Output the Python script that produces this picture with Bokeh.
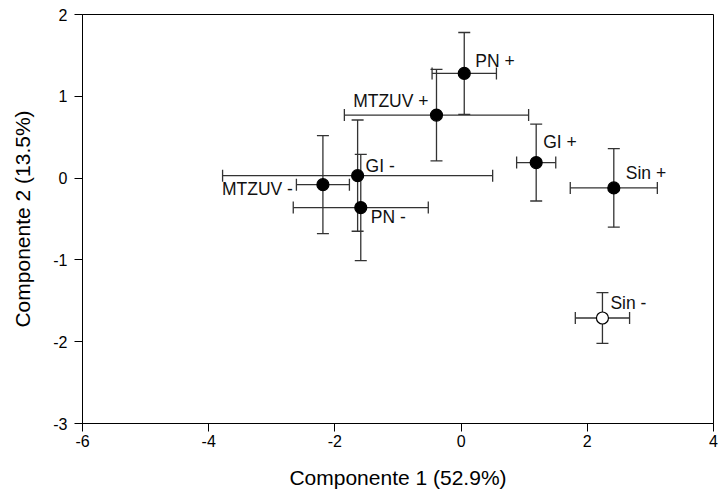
from bokeh.plotting import figure
from bokeh.models import ColumnDataSource, Whisker, FixedTicker, Range1d, TeeHead, CustomJSTickFormatter
from bokeh.core.properties import value
from bokeh.embed import file_html
from bokeh.resources import INLINE

labels = ["PN +", "MTZUV +", "GI -", "PN -", "MTZUV -", "GI +", "Sin +", "Sin -"]
comp1 = [0.05, -0.39, -1.64, -1.59, -2.19, 1.19, 2.42, 2.24]
comp2 = [1.28, 0.77, 0.03, -0.36, -0.08, 0.19, -0.12, -1.71]
err1 = [0.51, 1.46, 2.14, 1.07, 0.42, 0.31, 0.69, 0.43]
err2 = [0.50, 0.56, 0.68, 0.65, 0.60, 0.47, 0.48, 0.31]
filled = [True, True, True, True, True, True, True, False]
x_ticks = [-6, -4, -2, 0, 2, 4]
y_ticks = [-3, -2, -1, 0, 1, 2]

# label placement (pixels)
lab_dx = [11, -8, 8, 10, -30, 7, 12, 8]
lab_dy = [-12, -14, -10, 9, 4, -21, -15, -15]
lab_align = ["left", "right", "left", "left", "right", "left", "left", "left"]

src = ColumnDataSource(dict(
    x=comp1, y=comp2,
    xl=[a - e for a, e in zip(comp1, err1)], xu=[a + e for a, e in zip(comp1, err1)],
    yl=[b - e for b, e in zip(comp2, err2)], yu=[b + e for b, e in zip(comp2, err2)],
    fill=["black" if f else "white" for f in filled],
    label=labels, dx=lab_dx, dy=lab_dy, align=lab_align,
))

FONT = "Liberation Sans"
p = figure(width=719, height=493, output_backend="svg", toolbar_location=None,
           x_range=Range1d(-6, 4), y_range=Range1d(-3, 2),
           min_border_left=82, min_border_right=6, min_border_top=14, min_border_bottom=70)
p.frame_width = 631
p.frame_height = 409
p.grid.visible = False
p.outline_line_color = "black"
p.outline_line_width = 1
p.background_fill_color = "white"
p.border_fill_color = "white"

ecol = "#333333"
wy = Whisker(source=src, base="x", lower="yl", upper="yu", dimension="height",
             line_color=ecol, line_width=1.3,
             upper_head=TeeHead(size=12, line_color=ecol, line_width=1.3),
             lower_head=TeeHead(size=12, line_color=ecol, line_width=1.3))
wx = Whisker(source=src, base="y", lower="xl", upper="xu", dimension="width",
             line_color=ecol, line_width=1.3,
             upper_head=TeeHead(size=12, line_color=ecol, line_width=1.3),
             lower_head=TeeHead(size=12, line_color=ecol, line_width=1.3))
wy.level = "glyph"
wx.level = "glyph"
p.add_layout(wy)
p.add_layout(wx)

p.scatter("x", "y", source=src, size=12, fill_color="fill", line_color="black", line_width=1.2, level="overlay")

p.text("x", "y", text="label", source=src, x_offset="dx", y_offset="dy",
       text_align="align", text_baseline="middle",
       text_font=value(FONT), text_font_size="17.5px", text_color="#111111")

fmt = CustomJSTickFormatter(code="return tick.toFixed(0);")
for ax in (p.xaxis[0], p.yaxis[0]):
    ax.formatter = fmt
    ax.axis_line_color = "black"
    ax.major_tick_line_color = "black"
    ax.minor_tick_line_color = None
    ax.major_tick_in = 0
    ax.major_tick_out = 8
    ax.major_label_text_font = FONT
    ax.major_label_text_font_size = "16px"
    ax.major_label_text_color = "black"
    ax.axis_label_text_font = FONT
    ax.axis_label_text_font_size = "21px"
    ax.axis_label_text_font_style = "normal"
    ax.axis_label_text_color = "black"

p.xaxis.ticker = FixedTicker(ticks=x_ticks)
p.yaxis.ticker = FixedTicker(ticks=y_ticks)
p.xaxis.axis_label = "Componente 1 (52.9%)"
p.yaxis.axis_label = "Componente 2 (13.5%)"
p.xaxis.major_label_standoff = 3
p.yaxis.major_label_standoff = 7
p.xaxis.axis_label_standoff = 16
p.yaxis.axis_label_standoff = 16

open("out.html", "w").write(file_html(p, INLINE))
